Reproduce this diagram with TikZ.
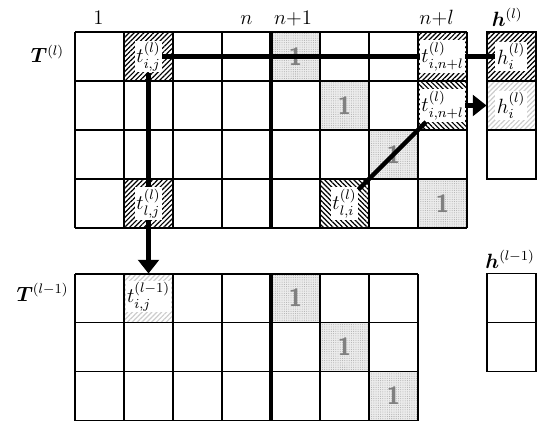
\documentclass[tikz,border=0pt]{standalone}
\usepackage{amsmath,bm}
\usetikzlibrary{patterns.meta,arrows.meta}
\tikzset{
 gridline/.style={line width=1.1pt},
 sepline/.style={line width=2pt},
 conn/.style={line width=2.6pt},
 arr/.style={conn,-{Triangle[length=8pt,width=12pt]}},
 cellbase/.style={minimum size=1cm,inner sep=0pt,outer sep=0pt},
 hatchNE/.style={cellbase,pattern={Lines[angle=45,distance=2pt,line width=0.7pt]},pattern color=black},
 hatchNW/.style={cellbase,pattern={Lines[angle=-45,distance=2pt,line width=0.7pt]},pattern color=black},
 hatchLt/.style={cellbase,pattern={Lines[angle=45,distance=2pt,line width=0.7pt]},pattern color=gray!40},
 dotcell/.style={cellbase,preaction={fill=gray!15},pattern={Dots[distance=1.3pt,radius=0.3pt]},pattern color=gray!65},
 one/.style={text=gray,font=\sffamily\bfseries\Large},
 tlab/.style={fill=white,inner sep=0.8pt,font=\large},
 collab/.style={anchor=base,font=\large},
}
\begin{document}
\begin{tikzpicture}
\useasboundingbox (-1.531,0.653) rectangle (9.429,-8.122);
% ---------- top matrix cells
\node[hatchNE] (c01) at (1.5,-0.5) {};
\node[hatchNE] (c31) at (1.5,-3.5) {};
\node[hatchNE] (c07) at (7.5,-0.5) {};
\node[hatchNW] (c17) at (7.5,-1.5) {};
\node[hatchNW] (c35) at (5.5,-3.5) {};
\node[dotcell] (d04) at (4.5,-0.5) {};
\node[dotcell] (d15) at (5.5,-1.5) {};
\node[dotcell] (d26) at (6.5,-2.5) {};
\node[dotcell] (d37) at (7.5,-3.5) {};
% h^(l) cells
\node[hatchNE] (h0) at (8.9,-0.5) {};
\node[hatchLt] (h1) at (8.9,-1.5) {};
% ---------- bottom matrix cells
\begin{scope}[yshift=-4.93cm]
\node[hatchLt] (b01) at (1.5,-0.5) {};
\node[dotcell] (e04) at (4.5,-0.5) {};
\node[dotcell] (e15) at (5.5,-1.5) {};
\node[dotcell] (e26) at (6.5,-2.5) {};
\end{scope}
% ---------- grids
\draw[gridline] (0,-4) grid (8,0);
\draw[sepline] (4,0) -- (4,-4);
\draw[gridline] (8.4,0) rectangle (9.4,-3);
\draw[gridline] (8.4,-1) -- (9.4,-1) (8.4,-2) -- (9.4,-2);
\begin{scope}[yshift=-4.93cm]
\draw[gridline] (0,-3) grid (7,0);
\draw[sepline] (4,0) -- (4,-3);
\draw[gridline] (8.4,0) rectangle (9.4,-2);
\draw[gridline] (8.4,-1) -- (9.4,-1);
\end{scope}
% ---------- ones
\foreach \n in {d04,d15,d26,d37,e04,e15,e26}
  \node[one] at (\n) {1};
% ---------- labels
\node[collab] (l1) at (0.48,0.15) {$1$};
\node[collab] (ln) at (3.5,0.15) {$n$};
\node[collab] (ln1) at (4.45,0.15) {$n{+}1$};
\node[collab] (lnl) at (7.38,0.15) {$n{+}l$};
\node[collab] (lh) at (8.82,0.12) {$\bm{h}^{(l)}$};
\node[anchor=base east,font=\large] (lT) at (-0.1,-0.63) {$\bm{T}^{(l)}$};
\node[anchor=base east,font=\large] (lT1) at (-0.01,-5.5) {$\bm{T}^{(l-1)}$};
\node[collab] (lh1) at (8.88,-4.82) {$\bm{h}^{(l-1)}$};
% ---------- text nodes
\node[tlab] (tij) at (c01) {$t^{(l)}_{i,j}$};
\node[tlab] (tlj) at (c31) {$t^{(l)}_{l,j}$};
\node[tlab] (tin1) at (c07) {$t^{(l)}_{i,n+l}$};
\node[tlab] (tin2) at (c17) {$t^{(l)}_{i,n+l}$};
\node[tlab] (tli) at (c35) {$t^{(l)}_{l,i}$};
\node[tlab] (hi1) at (h0) {$h^{(l)}_{i}$};
\node[tlab] (hi2) at (h1) {$h^{(l)}_{i}$};
\node[tlab] (tijb) at ([yshift=1pt]b01) {$t^{(l-1)}_{i,j}$};
% ---------- connectors
\draw[conn] (tij) -- (tin1);
\draw[conn] (tin1) -- (hi1);
\draw[conn] (tij) -- (tlj);
\draw[arr] (tlj) -- (b01.north);
\draw[arr] (tin2) -- (h1.west);
\draw[conn] (tli) -- (tin2);
\end{tikzpicture}
\end{document}
